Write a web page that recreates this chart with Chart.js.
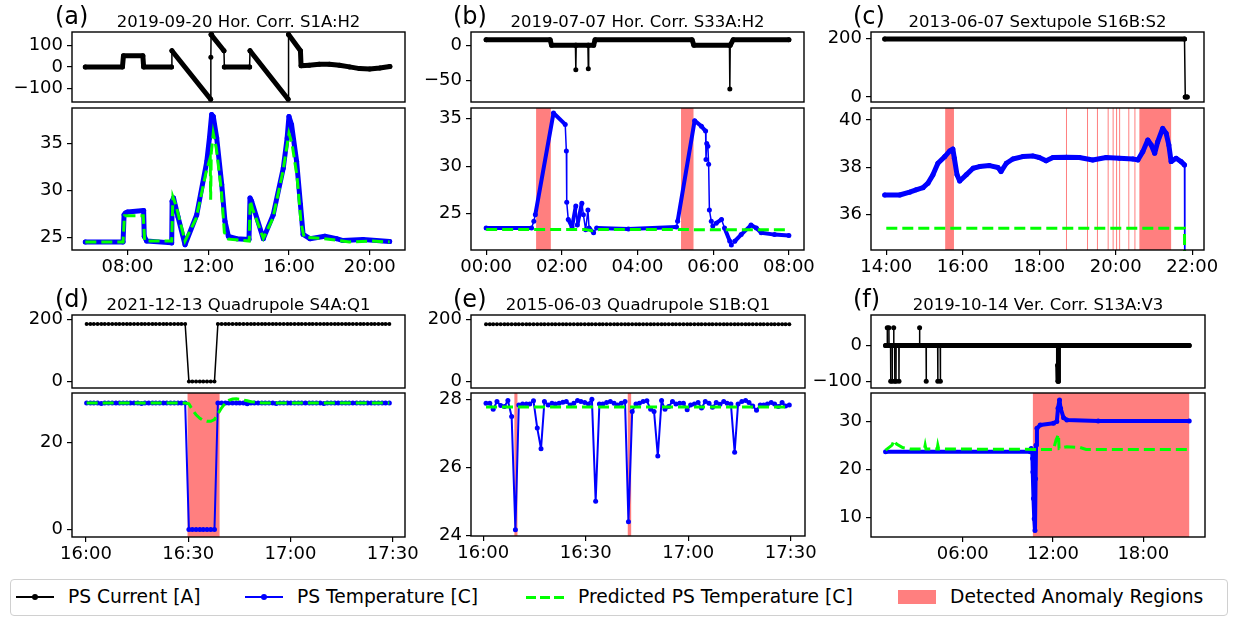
<!DOCTYPE html>
<html>
<head>
<meta charset="utf-8">
<script src="https://cdn.jsdelivr.net/npm/chart.js@4.4.0/dist/chart.umd.min.js"></script>
<style>
body { margin: 0; background: #fff; width: 1235px; height: 617px; position: relative; overflow: hidden; font-family: "DejaVu Sans", sans-serif; color: #000; }
canvas { position: absolute; }
.plabel { position: absolute; font-size: 24px; line-height: 24px; white-space: nowrap; }
.ttl { position: absolute; font-size: 16.5px; line-height: 16.5px; white-space: nowrap; transform: translateX(-50%); }
#legend { position: absolute; left: 10px; top: 579px; width: 1216px; height: 35px; border: 1px solid #d0d0d0; border-radius: 4px; }
.lt { position: absolute; font-size: 18.7px; line-height: 18.7px; top: 588px; white-space: nowrap; }
.dot { position: absolute; width: 6px; height: 6px; border-radius: 3px; top: 594px; }
</style>
</head>
<body>
<div id="legend"></div>
<script>
// ---- (a) 2019-09-20 Hor. Corr. S1A:H2 (hours) ----
const aCurT = [5.91, 7.75, 7.8, 8.76, 8.8, 10.18, 10.2, 12.12, 12.13, 12.14, 12.17, 12.78, 12.8, 14.05, 14.07, 15.96, 15.98, 16.57, 16.6, 17.0, 17.5, 18.0, 18.5, 19.0, 19.5, 20.0, 20.5, 21.0];
const aCurV = [0, 0, 52, 52, 0, 0, 75, -150, 45, 150, 150, 75, 0, 0, 75, -150, 150, 75, 5, 8, 12, 12, 8, 0, -8, -10, -5, 2];
const aTempT = [5.91, 7.78, 7.83, 7.9, 8.0, 8.8, 8.83, 8.95, 10.19, 10.21, 10.28, 10.5, 10.85, 11.43, 11.93, 12.06, 12.17, 12.25, 12.42, 12.67, 12.83, 13.0, 13.41, 14.02, 14.07, 14.15, 14.73, 15.22, 15.72, 15.91, 16.0, 16.13, 16.38, 16.57, 16.7, 17.04, 17.78, 18.36, 18.68, 19.67, 20.99];
const aTempV = [24.5, 24.5, 27.4, 27.6, 27.7, 27.85, 25.1, 24.6, 24.4, 28.85, 29.2, 27.2, 24.2, 27.4, 33.1, 35.6, 38.1, 37.9, 35.6, 30.6, 26.7, 25.1, 24.85, 24.75, 29.2, 28.85, 24.85, 27.4, 32.4, 35.6, 37.9, 37.0, 33.1, 28.5, 25.3, 24.85, 25.1, 24.85, 24.65, 24.75, 24.55];
const aPredT = [5.91, 7.78, 7.85, 8.78, 8.85, 10.19, 10.25, 10.4, 10.85, 11.4, 11.9, 12.1, 12.12, 12.15, 12.25, 12.4, 12.65, 12.8, 13.0, 14.03, 14.08, 14.2, 14.73, 15.2, 15.7, 16.0, 16.15, 16.4, 16.6, 16.75, 17.5, 18.3, 19.0, 20.0, 20.99];
const aPredV = [24.5, 24.5, 27.3, 27.3, 24.6, 24.6, 29.3, 28.4, 24.6, 27.0, 32.0, 33.5, 29.0, 34.0, 36.1, 34.5, 30.0, 25.5, 24.8, 24.6, 28.9, 28.0, 24.9, 27.0, 32.0, 36.1, 35.0, 31.5, 26.5, 25.0, 24.9, 24.7, 24.5, 24.6, 24.5];

// ---- (b) 2019-07-07 Hor. Corr. S33A:H2 (hours) ----
const bCurT = [0, 1.69, 1.73, 2.36, 2.37, 2.38, 2.69, 2.70, 2.71, 2.84, 2.88, 5.44, 5.49, 6.43, 6.44, 6.45, 6.53, 8.0];
const bCurV = [8, 8, 0, 0, -34.4, 0, 0, -33, 0, 0, 8, 8, 0, 0, -61.8, 0, 8, 8];
const bTempT = [0, 1.2, 1.26, 1.3, 1.78, 2.09, 2.12, 2.13, 2.17, 2.27, 2.37, 2.41, 2.53, 2.57, 2.63, 2.69, 2.72, 2.84, 2.92, 3.76, 5.03, 5.06, 5.51, 5.69, 5.80, 5.81, 5.83, 5.86, 5.88, 5.9, 5.95, 5.99, 6.08, 6.22, 6.3, 6.44, 6.48, 6.57, 6.74, 7.0, 7.14, 7.27, 7.62, 8.0];
const bTempV = [23.5, 23.5, 24.2, 24.9, 35.6, 34.4, 31.6, 26.2, 24.4, 23.6, 25.8, 23.8, 26.1, 24.9, 23.3, 25.4, 23.5, 23.0, 23.5, 23.4, 23.6, 24.2, 34.8, 34.2, 33.7, 30.7, 32.4, 32.1, 30.2, 25.4, 24.2, 23.7, 24.0, 24.4, 23.5, 22.1, 21.7, 22.1, 22.8, 23.8, 23.5, 23.0, 22.8, 22.7];
const bPredT = [0, 2.6, 2.8, 3.0, 8.0];
const bPredV = [23.35, 23.35, 23.2, 23.35, 23.3];
const bAnomStart = [1.32, 5.15];
const bAnomEnd = [1.71, 5.48];

// ---- (c) 2013-06-07 Sextupole S16B:S2 (hours) ----
const cCurT = [13.96, 21.8, 21.82, 21.87];
const cCurV = [197, 197, 0, 0];
const cTempT = [13.96, 14.35, 14.61, 14.78, 14.96, 15.09, 15.22, 15.35, 15.53, 15.66, 15.74, 15.78, 15.85, 15.92, 16.09, 16.27, 16.44, 16.7, 16.92, 17.0, 17.14, 17.31, 17.57, 17.83, 18.0, 18.18, 18.36, 18.71, 19.05, 19.4, 19.75, 20.1, 20.45, 20.58, 20.71, 20.84, 20.93, 21.02, 21.1, 21.23, 21.32, 21.39, 21.45, 21.58, 21.71, 21.8, 21.81];
const cTempV = [36.83, 36.83, 36.95, 37.05, 37.14, 37.33, 37.68, 38.17, 38.45, 38.69, 38.77, 38.38, 37.68, 37.42, 37.68, 37.96, 38.03, 38.07, 37.99, 37.82, 38.17, 38.35, 38.45, 38.48, 38.41, 38.27, 38.41, 38.42, 38.41, 38.31, 38.41, 38.38, 38.35, 38.31, 38.66, 39.15, 38.94, 38.59, 39.08, 39.64, 39.43, 38.94, 38.24, 38.38, 38.24, 38.1, 30];
const cPredT = [14.0, 21.8, 21.81];
const cPredV = [35.43, 35.43, 30];
const cAnomStart = [15.54, 18.70, 19.25, 19.51, 19.79, 19.92, 20.01, 20.09, 20.33, 20.49, 20.62];
const cAnomEnd = [15.77, 18.72, 19.27, 19.53, 19.81, 19.94, 20.03, 20.11, 20.35, 20.51, 21.45];

// ---- (d) 2021-12-13 Quadrupole S4A:Q1 (minutes after 16:00) ----
const dTime = [0.2, 1.3, 2.3, 3.4, 4.5, 5.5, 6.6, 7.7, 8.8, 9.8, 10.9, 12.0, 13.0, 14.1, 15.2, 16.3, 17.3, 18.4, 19.5, 20.5, 21.6, 22.7, 23.7, 24.8, 25.9, 27.0, 28.0, 29.1, 30.2, 31.2, 32.3, 33.4, 34.4, 35.5, 36.6, 37.7, 38.7, 39.8, 40.9, 41.9, 43.0, 44.1, 45.1, 46.2, 47.3, 48.4, 49.4, 50.5, 51.6, 52.6, 53.7, 54.8, 55.8, 56.9, 58.0, 59.1, 60.1, 61.2, 62.3, 63.3, 64.4, 65.5, 66.5, 67.6, 68.7, 69.8, 70.8, 71.9, 73.0, 74.0, 75.1, 76.2, 77.2, 78.3, 79.4, 80.5, 81.5, 82.6, 83.7, 84.7, 85.8, 86.9, 87.9, 89.0];
const dCur = [185, 185, 185, 185, 185, 185, 185, 185, 185, 185, 185, 185, 185, 185, 185, 185, 185, 185, 185, 185, 185, 185, 185, 185, 185, 185, 185, 185,
  0, 0, 0, 0, 0, 0, 0, 0,
  185, 185, 185, 185, 185, 185, 185, 185, 185, 185, 185, 185, 185, 185, 185, 185, 185, 185, 185, 185, 185, 185, 185, 185,
  185, 185, 185, 185, 185, 185, 185, 185, 185, 185, 185, 185, 185, 185, 185, 185, 185, 185, 185, 185, 185, 185, 185, 185];
const dTemp = [29.1, 29.1, 29.1, 29.1, 29.0, 29.1, 29.1, 29.1, 29.1, 29.1, 29.1, 29.1, 29.1, 29.1, 29.1, 29.0, 29.1, 29.1, 29.1, 29.1, 29.1, 29.1, 29.1, 29.1, 29.1, 29.1, 29.1, 29.1,
  0, 0, 0, 0, 0, 0, 0, 0,
  29.1, 29.1, 29.1, 29.1, 29.1, 29.1, 29.1, 29.1, 28.9, 29.1, 29.1, 29.1, 29.1, 29.1, 29.1, 29.1, 29.0, 29.1, 29.1, 29.1, 29.1, 29.1, 29.1, 29.1,
  29.1, 29.1, 29.1, 29.1, 29.1, 29.0, 29.1, 29.1, 29.1, 29.1, 29.1, 29.1, 29.1, 29.1, 29.1, 29.1, 29.1, 29.1, 29.1, 29.1, 29.1, 29.1, 29.1, 29.1];
const dPred = [29.1, 29.1, 29.1, 29.1, 29.1, 29.1, 29.1, 29.1, 29.1, 29.1, 29.1, 29.1, 29.1, 29.1, 29.1, 29.1, 29.1, 29.1, 29.1, 29.1, 29.1, 29.1, 29.1, 29.1, 29.1, 29.1, 29.1, 29.1,
  28.9, 27.6, 26.4, 25.6, 25.1, 24.9, 24.9, 25.3,
  26.6, 28.0, 29.1, 29.7, 30.0, 30.05, 29.95, 29.8, 29.6, 29.4, 29.3, 29.2,
  29.1, 29.1, 29.1, 29.1, 29.1, 29.1, 29.1, 29.1, 29.1, 29.1, 29.1, 29.1, 29.1, 29.1, 29.1, 29.1, 29.1, 29.1,
  29.1, 29.1, 29.1, 29.1, 29.1, 29.1, 29.1, 29.1, 29.1, 29.1, 29.1, 29.1, 29.1, 29.1, 29.1, 29.1, 29.1, 29.1];
const dAnomStart = [29.8];
const dAnomEnd = [39.2];

// ---- (e) 2015-06-03 Quadrupole S1B:Q1 (minutes after 16:00) ----
const eTime = [0.8, 1.9, 2.9, 4.0, 5.1, 6.2, 7.2, 8.3, 9.4, 10.4, 11.5, 12.6, 13.6, 14.7, 15.8, 16.9, 17.9, 19.0, 20.1, 21.1, 22.2, 23.3, 24.3, 25.4, 26.5, 27.6, 28.6, 29.7, 30.8, 31.8, 32.9, 34.0, 35.0, 36.1, 37.2, 38.3, 39.3, 40.4, 41.5, 42.5, 43.6, 44.7, 45.7, 46.8, 47.9, 49.0, 50.0, 51.1, 52.2, 53.2, 54.3, 55.4, 56.4, 57.5, 58.6, 59.7, 60.7, 61.8, 62.9, 63.9, 65.0, 66.1, 67.1, 68.2, 69.3, 70.4, 71.4, 72.5, 73.6, 74.6, 75.7, 76.8, 77.8, 78.9, 80.0, 81.1, 82.1, 83.2, 84.3, 85.3, 86.4, 87.5, 88.5, 89.6];
const eCur = [184, 184, 184, 184, 184, 184, 184, 184, 184, 184, 184, 184, 184, 184, 184, 184, 184, 184, 184, 184, 184, 184, 184, 184, 184, 184, 184, 184,
  184, 184, 184, 184, 184, 184, 184, 184, 184, 184, 184, 184, 184, 184, 184, 184, 184, 184, 184, 184, 184, 184, 184, 184, 184, 184, 184, 184,
  184, 184, 184, 184, 184, 184, 184, 184, 184, 184, 184, 184, 184, 184, 184, 184, 184, 184, 184, 184, 184, 184, 184, 184, 184, 184, 184, 184];
const eTemp = [27.88, 27.88, 27.7, 27.93, 27.81, 27.78, 27.96, 27.49, 24.16, 27.83,
  27.86, 27.86, 27.86, 27.95, 27.15, 26.54, 27.93, 27.83, 27.88, 27.86,
  27.88, 27.91, 27.93, 27.83, 27.88, 27.96, 27.93, 27.9, 27.86, 28.0,
  25.0, 27.86, 27.86, 27.9, 27.93, 27.88, 27.83, 27.88, 27.93, 24.4,
  27.64, 27.86, 27.88, 27.93, 27.95, 27.7, 27.64, 26.33, 27.96, 27.7,
  27.78, 27.93, 27.86, 27.88, 27.88, 27.69, 27.83, 27.86, 27.9, 27.74,
  27.93, 27.88, 27.76, 27.9, 27.85, 27.93, 27.88, 27.86, 26.44, 27.86,
  27.93, 27.96, 27.9, 27.8, 27.67, 27.83, 27.83, 27.86, 27.9, 27.86,
  27.78, 27.9, 27.8, 27.83];
const ePredT = [0.8, 89.6];
const ePredV = [27.77, 27.77];
const eAnomStart = [9.1, 42.3];
const eAnomEnd = [10.0, 43.3];

// ---- (f) 2019-10-14 Ver. Corr. S13A:V3 (hours) ----
const fCurT = [0.87, 0.97, 0.98, 0.99, 1.08, 1.09, 1.1, 1.2, 1.21, 1.22, 1.3, 1.31, 1.32, 1.4, 1.41, 1.42, 1.47, 1.48, 1.49, 1.55, 1.56, 1.57, 1.75, 1.76, 1.77, 3.12, 3.13, 3.14, 3.56, 3.57, 3.58, 4.33, 4.34, 4.35, 4.5, 4.51, 4.52, 12.3, 12.31, 12.33, 12.35, 12.37, 21.05];
const fCurV = [0, 0, 50, 0, 0, 50, 0, 0, -100, 0, 0, -100, 0, 0, 50, 0, 0, -100, 0, 0, -100, 0, 0, -100, 0, 0, 50, 0, 0, -100, 0, 0, -100, 0, 0, -100, 0, 0, -55, -100, -100, 0, 0];
const fTempT = [0.87, 10.49, 10.55, 10.62, 10.64, 10.66, 10.7, 10.75, 10.8, 10.84, 10.87, 10.93, 11.15, 12.03, 12.25, 12.33, 12.43, 12.5, 12.7, 12.92, 15.0, 21.05];
const fTempV = [23.62, 23.62, 24.3, 23.76, 22.2, 19.4, 13.9, 9.7, 7.25, 18.0, 25.0, 28.5, 29.2, 29.55, 29.9, 32.7, 34.4, 32.7, 30.7, 30.24, 30.03, 30.03];
const fPredT = [0.87, 1.3, 1.43, 1.6, 2.0, 2.5, 3.45, 3.5, 3.55, 4.3, 4.34, 4.4, 12.03, 12.2, 12.36, 12.4, 12.92, 13.8, 14.2, 21.05];
const fPredV = [23.97, 25.0, 26.0, 25.2, 24.5, 24.2, 24.2, 25.0, 24.2, 24.2, 25.0, 24.2, 24.1, 26.06, 27.25, 24.3, 24.67, 24.5, 24.1, 24.1];
const fAnomStart = [10.66];
const fAnomEnd = [21.05];

// tick values and labels
const hourTicksA = [8, 12, 16, 20];
const hourLabelsA = ['08:00', '12:00', '16:00', '20:00'];
const hourTicksB = [0, 2, 4, 6, 8];
const hourLabelsB = ['00:00', '02:00', '04:00', '06:00', '08:00'];
const hourTicksC = [14, 16, 18, 20, 22];
const hourLabelsC = ['14:00', '16:00', '18:00', '20:00', '22:00'];
const minTicks = [0, 30, 60, 90];
const minLabels = ['16:00', '16:30', '17:00', '17:30'];
const hourTicksF = [6, 12, 18];
const hourLabelsF = ['06:00', '12:00', '18:00'];

Chart.defaults.font.family = 'DejaVu Sans';
Chart.defaults.font.size = 18;
Chart.defaults.color = '#000';

const BLACK = '#000000', BLUE = '#0000ff', GREEN = '#00ff00';

// axes frame + shaded anomaly spans
const framePlugin = {
  id: 'frame',
  beforeDatasetsDraw(chart, args, opts) {
    const { ctx, chartArea: a } = chart;
    const xs = chart.scales.x;
    ctx.save();
    ctx.fillStyle = 'rgba(255,0,0,0.5)';
    (opts.starts || []).forEach((s, i) => {
      let x0 = Math.max(xs.getPixelForValue(s), a.left);
      let x1 = Math.min(xs.getPixelForValue(opts.ends[i]), a.right);
      if (x1 - x0 < 1) x1 = x0 + 1;
      ctx.fillRect(x0, a.top, x1 - x0, a.bottom - a.top);
    });
    ctx.restore();
  },
  afterDraw(chart) {
    const { ctx, chartArea: a } = chart;
    ctx.save();
    ctx.strokeStyle = '#000';
    ctx.lineWidth = 1.4;
    ctx.strokeRect(a.left, a.top, a.right - a.left, a.bottom - a.top);
    ctx.restore();
  }
};

function pts(t, v) {
  return t.map((x, i) => ({ x: x, y: v[i] }));
}

function solid(t, v, color, thick, thin, r) {
  return {
    data: pts(t, v), borderColor: color, backgroundColor: color,
    pointBackgroundColor: color, pointBorderWidth: 0, pointRadius: r,
    borderWidth: thick, tension: 0, borderCapStyle: 'round', borderJoinStyle: 'round',
    segment: { borderWidth: c => (Math.abs(c.p1.parsed.x - c.p0.parsed.x) < thin ? 1.5 : thick) },
    clip: 1
  };
}

function dashed(t, v) {
  return { data: pts(t, v), borderColor: GREEN, borderWidth: 3, borderDash: [11, 5], pointRadius: 0, tension: 0, clip: 1 };
}

function fmt(v) {
  return v < 0 ? '\u2212' + Math.abs(v) : String(v);
}

const YW = 70, XH = 30;

function addPanel(box, p) {
  const hasX = !!p.xTicks;
  const w = YW + (box[2] - box[0]) + 30;
  const h = 10 + (box[3] - box[1]) + (hasX ? XH : 10);
  const cv = document.createElement('canvas');
  cv.width = w; cv.height = h;
  cv.style.left = (box[0] - YW) + 'px';
  cv.style.top = (box[1] - 10) + 'px';
  cv.style.width = w + 'px';
  cv.style.height = h + 'px';
  document.body.appendChild(cv);
  const tickGrid = { display: true, drawOnChartArea: false, drawTicks: true, tickLength: 5, color: '#000', lineWidth: 1.2 };
  new Chart(cv, {
    type: 'line',
    data: { datasets: p.datasets },
    options: {
      responsive: false, animation: false, events: [],
      layout: { autoPadding: false, padding: { top: 10, right: 30, bottom: hasX ? 0 : 10, left: 0 } },
      plugins: { legend: { display: false }, tooltip: { enabled: false }, frame: { starts: p.spanStart || [], ends: p.spanEnd || [] } },
      scales: {
        x: {
          type: 'linear', min: p.xRange[0], max: p.xRange[1], display: hasX,
          afterFit: s => {
            s.height = hasX ? XH : 0;
            s.paddingLeft = 0; s.paddingRight = 0;
          },
          afterBuildTicks: s => { s.ticks = (p.xTicks || []).map(v => ({ value: v })); },
          ticks: { autoSkip: false, maxRotation: 0, padding: 2, callback: (v, i) => p.xLabels[i] },
          grid: tickGrid, border: { display: false }
        },
        y: {
          type: 'linear', min: p.yRange[0], max: p.yRange[1],
          afterFit: s => {
            s.width = YW;
            s.paddingTop = 0; s.paddingBottom = 0;
          },
          afterBuildTicks: s => { s.ticks = p.yTicks.map(v => ({ value: v })); },
          ticks: { autoSkip: false, padding: 4, callback: v => fmt(v) },
          grid: tickGrid, border: { display: false }
        }
      }
    },
    plugins: [framePlugin]
  });
}

// (a)
addPanel([72, 32, 405, 102], { xRange: [5.25, 21.75], yRange: [-163, 162], yTicks: [-100, 0, 100],
  datasets: [solid(aCurT, aCurV, BLACK, 5, 0.025, 2.5)] });
addPanel([72, 108, 405, 250], { xRange: [5.25, 21.75], yRange: [23.64, 38.8], yTicks: [25, 30, 35],
  xTicks: hourTicksA, xLabels: hourLabelsA,
  datasets: [dashed(aPredT, aPredV), solid(aTempT, aTempV, BLUE, 5, 0.0, 2.5)] });
// (b)
addPanel([471, 32, 804, 102], { xRange: [-0.4, 8.4], yRange: [-80, 18.8], yTicks: [-50, 0],
  datasets: [solid(bCurT, bCurV, BLACK, 5, 0.015, 2.5)] });
addPanel([471, 108, 804, 250], { xRange: [-0.4, 8.4], yRange: [21.18, 36.13], yTicks: [25, 30, 35],
  xTicks: hourTicksB, xLabels: hourLabelsB, spanStart: bAnomStart, spanEnd: bAnomEnd,
  datasets: [dashed(bPredT, bPredV), solid(bTempT, bTempV, BLUE, 4, 0.1, 2.5)] });
// (c)
addPanel([871, 32, 1204, 102], { xRange: [13.6, 22.31], yRange: [-17, 221], yTicks: [0, 200],
  datasets: [solid(cCurT, cCurV, BLACK, 5, 0.03, 2.5)] });
addPanel([871, 108, 1204, 250], { xRange: [13.6, 22.31], yRange: [34.51, 40.5], yTicks: [36, 38, 40],
  xTicks: hourTicksC, xLabels: hourLabelsC, spanStart: cAnomStart, spanEnd: cAnomEnd,
  datasets: [dashed(cPredT, cPredV), solid(cTempT, cTempV, BLUE, 5, 0.02, 2.5)] });
// (d)
addPanel([72, 315, 405, 388], { xRange: [-4.1, 93.6], yRange: [-21.2, 213.8], yTicks: [0, 200],
  datasets: [solid(dTime, dCur, BLACK, 1.5, 0, 2)] });
addPanel([72, 393, 405, 537], { xRange: [-4.1, 93.6], yRange: [-1.71, 31.4], yTicks: [0, 20],
  xTicks: minTicks, xLabels: minLabels, spanStart: dAnomStart, spanEnd: dAnomEnd,
  datasets: [dashed(dTime, dPred), solid(dTime, dTemp, BLUE, 2, 0, 2.5)] });
// (e)
addPanel([471, 315, 805, 388], { xRange: [-3.6, 94.2], yRange: [-21.2, 213.8], yTicks: [0, 200],
  datasets: [solid(eTime, eCur, BLACK, 1.5, 0, 2)] });
addPanel([471, 393, 805, 536], { xRange: [-3.6, 94.2], yRange: [23.98, 28.18], yTicks: [24, 26, 28],
  xTicks: minTicks, xLabels: minLabels, spanStart: eAnomStart, spanEnd: eAnomEnd,
  datasets: [dashed(ePredT, ePredV), solid(eTime, eTemp, BLUE, 2, 0, 2.5)] });
// (f)
addPanel([871, 315, 1205, 388], { xRange: [-0.1, 22.1], yRange: [-118.7, 85.4], yTicks: [-100, 0],
  datasets: [solid(fCurT, fCurV, BLACK, 5, 0.015, 2.5)] });
addPanel([871, 393, 1205, 537], { xRange: [-0.1, 22.1], yRange: [5.88, 35.85], yTicks: [10, 20, 30],
  xTicks: hourTicksF, xLabels: hourLabelsF, spanStart: fAnomStart, spanEnd: fAnomEnd,
  datasets: [dashed(fPredT, fPredV), solid(fTempT, fTempV, BLUE, 4, 0, 2.5)] });

// titles and panel letters
const titles = [
  ['(a)', '2019-09-20 Hor. Corr. S1A:H2', 55, 238.5, 17, 22],
  ['(b)', '2019-07-07 Hor. Corr. S33A:H2', 453, 637.5, 17, 22],
  ['(c)', '2013-06-07 Sextupole S16B:S2', 853, 1037.5, 17, 22],
  ['(d)', '2021-12-13 Quadrupole S4A:Q1', 55, 238.5, 300, 305],
  ['(e)', '2015-06-03 Quadrupole S1B:Q1', 453, 638, 300, 305],
  ['(f)', '2019-10-14 Ver. Corr. S13A:V3', 853, 1038, 300, 305]
];
titles.forEach(t => {
  const l = document.createElement('div');
  l.className = 'plabel';
  l.textContent = t[0];
  l.style.left = t[2] + 'px';
  l.style.top = (t[4] - 12.6) + 'px';
  document.body.appendChild(l);
  const d = document.createElement('div');
  d.className = 'ttl';
  d.textContent = t[1];
  d.style.left = t[3] + 'px';
  d.style.top = (t[5] - 7.9) + 'px';
  document.body.appendChild(d);
});

// legend
const legendItems = [
  ['PS Current [A]', 'line', BLACK, 16, 68],
  ['PS Temperature [C]', 'line', BLUE, 245, 297],
  ['Predicted PS Temperature [C]', 'dash', GREEN, 526, 578],
  ['Detected Anomaly Regions', 'patch', 'rgba(255,0,0,0.5)', 898, 950]
];
legendItems.forEach(it => {
  const s = document.createElement('div');
  if (it[1] === 'patch') {
    s.style.cssText = 'position:absolute;left:' + it[3] + 'px;top:590px;width:38px;height:14px;background:' + it[2];
  } else if (it[1] === 'dash') {
    s.style.cssText = 'position:absolute;left:' + it[3] + 'px;top:596px;width:38px;height:3px;background:repeating-linear-gradient(90deg,' + it[2] + ' 0 10px,transparent 10px 14px)';
  } else {
    s.style.cssText = 'position:absolute;left:' + it[3] + 'px;top:596px;width:38px;height:2px;background:' + it[2];
    const d = document.createElement('div');
    d.className = 'dot';
    d.style.left = (it[3] + 16) + 'px';
    d.style.background = it[2];
    document.body.appendChild(d);
  }
  document.body.appendChild(s);
  const t = document.createElement('div');
  t.className = 'lt';
  t.textContent = it[0];
  t.style.left = it[4] + 'px';
  document.body.appendChild(t);
});
</script>
</body>
</html>
